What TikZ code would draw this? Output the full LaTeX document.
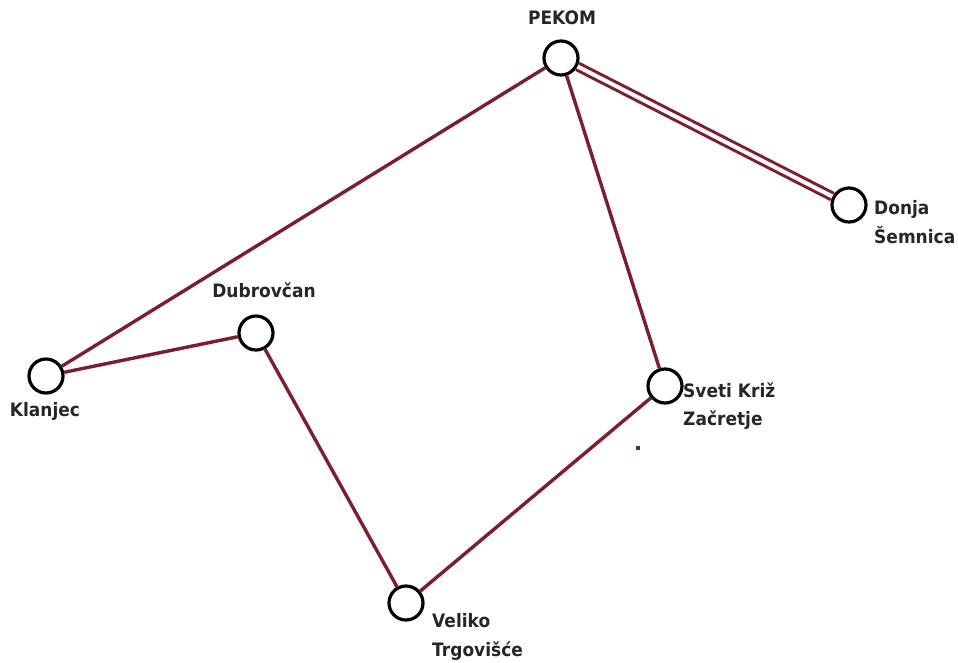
\documentclass[tikz,border=0pt]{standalone}
\usepackage{fontspec}
\setmainfont{DejaVu Sans}[FakeStretch=0.92]
\definecolor{road}{HTML}{7B1E2E}

\begin{document}
\begin{tikzpicture}[x=1pt, y=-1pt,
    stop/.style={draw=black, line width=3.2pt, circle, minimum size=34pt, inner sep=0pt},
    place/.style={font=\fontsize{18.5}{28.5}\selectfont\bfseries, text=black!85, inner sep=0pt},
    link/.style={road, line width=3.4pt}]
    \useasboundingbox (0,0) rectangle (958,662);

    % Stops
    \node[stop] (pekom) at (561, 58) {};
    \node[stop] (donja) at (849, 205) {};
    \node[stop] (klanjec) at (46, 376) {};
    \node[stop] (dubrovcan) at (256, 333) {};
    \node[stop] (sveti) at (665, 386) {};
    \node[stop] (veliko) at (406, 603) {};

    % Names
    \node[place] (pekomname) at (562, 18) {PEKOM};
    \node[place, anchor=west, align=left] (donjaname) at (874, 222) {Donja\\Šemnica};
    \node[place] (klanjecname) at (45, 411) {Klanjec};
    \node[place] (dubrovcanname) at (264, 290) {Dubrovčan};
    \node[place, anchor=west, align=left] (svetiname) at (683, 406) {Sveti Križ\\Začretje};
    \node[place, anchor=west, align=left] (velikoname) at (432, 637) {Veliko\\Trgovišće};

    % Roads
    \draw[link] (pekom) -- (klanjec);
    \draw[link] (klanjec) -- (dubrovcan);
    \draw[link] (dubrovcan) -- (veliko);
    \draw[link] (veliko) -- (sveti);
    \draw[link] (sveti) -- (pekom);
    \draw[link, line width=3pt, double=white, double distance=4pt] (pekom) -- (donja);

    % Stray mark
    \fill[road] (636, 446) rectangle (640, 450);
\end{tikzpicture}
\end{document}
